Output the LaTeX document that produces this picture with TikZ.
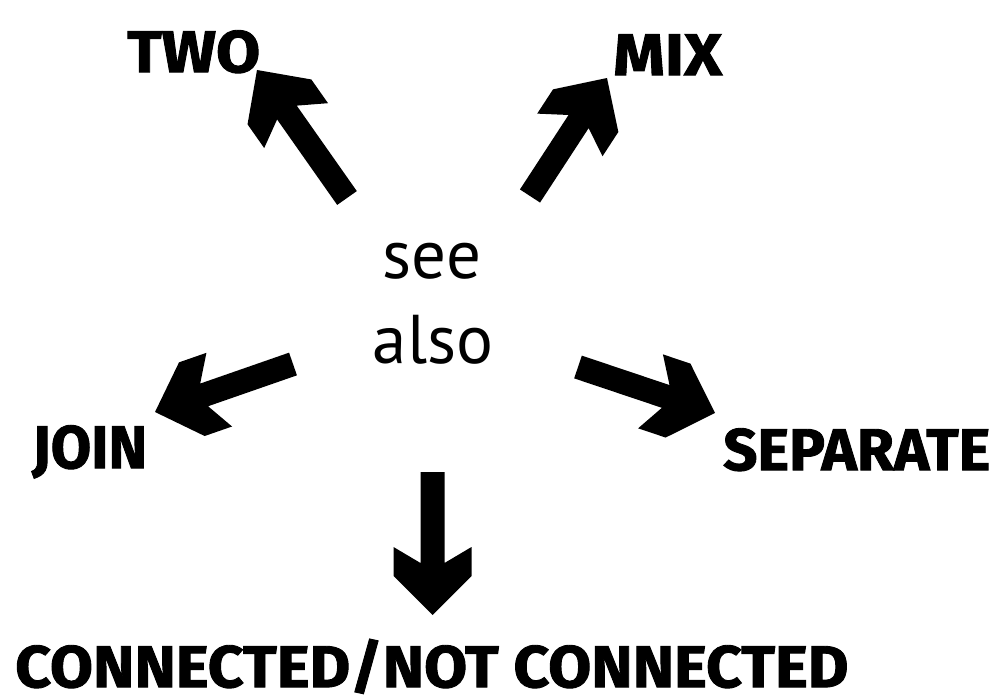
\documentclass[tikz,border=0pt]{standalone}
\usepackage{fontspec}
\usepackage{graphicx}
\usetikzlibrary{calc}
\newfontfamily\seefont{PT Sans}
\newfontfamily\labfont{Fira Sans}[FakeBold=1.5]
\newcommand\labbox[3]{\resizebox{#1pt}{#2pt}{\labfont\bfseries\vphantom{O}\smash{#3}}}
\tikzset{
  blockarrow/.style={fill=black,
    to path={let \p1=(\tikztostart), \p2=(\tikztotarget),
      \n1={atan2(\y2-\y1,\x2-\x1)}, \n2={veclen(\x2-\x1,\y2-\y1)} in
      {[shift={(\p1)},rotate=\n1]
       (0,12) -- ({\n2-52},12) -- ({\n2-68},39) -- ({\n2-39},39) -- (\n2,0)
       -- ({\n2-39},-39) -- ({\n2-68},-39) -- ({\n2-52},-12) -- (0,-12) -- cycle}}},
  lab/.style={inner sep=0pt, anchor=north west},
  seetext/.style={font=\seefont\fontsize{69}{84}\selectfont, inner sep=0pt, anchor=base},
}
\begin{document}
\begin{tikzpicture}[x=1pt,y=-1pt]
\fill[white] (0,0) rectangle (995,695);
\useasboundingbox (0,0) rectangle (995,695);

\node[seetext] (see) at (432,278) {see};
\node[seetext] (also) at (433,363) {also};

\node[lab] (two) at (127,30) {\labbox{133}{42}{TWO}};
\node[lab] (mix) at (613,33) {\labbox{109}{42}{MIX}};
\node[lab] (join) at (32,425) {\labbox{115}{43}{JOIN}};
\node[lab] (sep) at (723,428) {\labbox{267}{42}{SEPARATE}};
\node[lab] (conn) at (15,645) {\labbox{833}{42}{CONNECTED/NOT CONNECTED}};

\coordinate (twoS) at (347,198);  \coordinate (twoT) at (257,70);
\coordinate (mixS) at (530,196);  \coordinate (mixT) at (607,78);
\coordinate (joinS) at (293,364); \coordinate (joinT) at (155,412);
\coordinate (sepS) at (578,367);  \coordinate (sepT) at (715,413);
\coordinate (downS) at (432.5,472); \coordinate (downT) at (432.5,615);

\path[blockarrow] (twoS) to (twoT);
\path[blockarrow] (mixS) to (mixT);
\path[blockarrow] (joinS) to (joinT);
\path[blockarrow] (sepS) to (sepT);
\path[blockarrow] (downS) to (downT);
\end{tikzpicture}
\end{document}
